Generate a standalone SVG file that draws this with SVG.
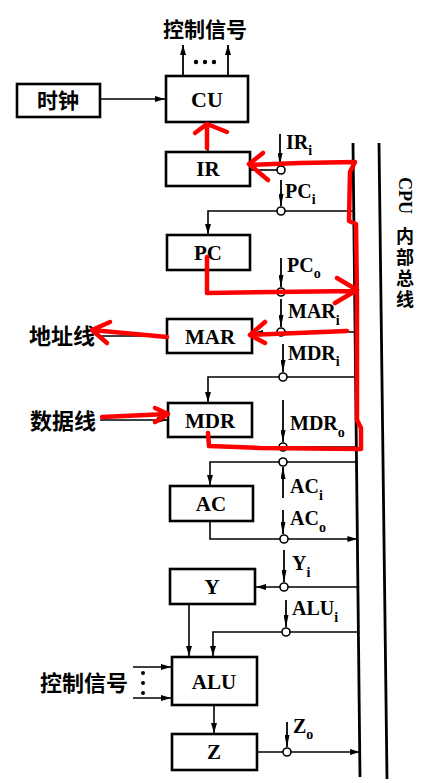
<svg xmlns="http://www.w3.org/2000/svg" width="436" height="783" viewBox="0 0 436 783">
<style>
.box{fill:#fff;stroke:#000;stroke-width:2.6}
.bl{font-family:"Liberation Serif","Times New Roman",serif;font-weight:bold;font-size:21px;text-anchor:middle}
.lb{font-family:"Liberation Serif","Times New Roman",serif;font-weight:bold;font-size:20px}
.sb{font-size:14px}
.cn{font-family:"Noto Sans CJK SC","Noto Sans",sans-serif;font-weight:bold;font-size:21px}
.vt{font-family:"Noto Sans CJK SC","Noto Sans",sans-serif;font-weight:bold;font-size:18px;writing-mode:vertical-rl}
.ln{fill:none;stroke:#000;stroke-width:1.6}
.st{fill:none;stroke:#000;stroke-width:1.8}
.bus{fill:none;stroke:#000;stroke-width:2.8}
.ci{fill:#fff;stroke:#000;stroke-width:1.6}
.red{fill:none;stroke:#f00;stroke-width:4.5;stroke-linecap:round;stroke-linejoin:round}
</style>
<defs>
<marker id="ah" viewBox="0 0 10 6" refX="10" refY="3" markerWidth="10" markerHeight="6" orient="auto" markerUnits="userSpaceOnUse"><path d="M0,0 L10,3 L0,6 z"/></marker>
<marker id="as" viewBox="0 0 12 5" refX="12" refY="2.5" markerWidth="12" markerHeight="5" orient="auto" markerUnits="userSpaceOnUse"><path d="M0,0 L12,2.5 L0,5 z"/></marker>
</defs>
<rect width="436" height="783" fill="#fff"/>

<g id="connectors">
<path class="bus" d="M353,143 L360,777"/>
<path class="bus" d="M379,143 L387,779"/>
<path class="ln" d="M100,99 H165" marker-end="url(#ah)"/>
<path class="st" d="M183,76 V45" marker-end="url(#ah)"/>
<path class="st" d="M228,76 V45" marker-end="url(#ah)"/>
<circle cx="196" cy="62" r="2.2"/><circle cx="205" cy="62" r="2.2"/><circle cx="214" cy="62" r="2.2"/>
<path class="ln" d="M208,152 V123"/>
<path class="st" d="M280,134 V165" marker-end="url(#as)"/>
<path class="ln" d="M250,170 H277"/>
<path class="st" d="M281,180 V206" marker-end="url(#as)"/>
<path class="ln" d="M285,211 H353.7 M277,211 H208 V234" marker-end="url(#ah)"/>
<path class="st" d="M281,258 V287" marker-end="url(#as)"/>
<path class="ln" d="M208,270 V292 H277 M285,292 H354"/>
<path class="st" d="M281,299 V327" marker-end="url(#as)"/>
<path class="ln" d="M354.5,332 H285 M277,333 H253" marker-end="url(#ah)"/>
<path class="st" d="M283,344 V372" marker-end="url(#as)"/>
<path class="ln" d="M355.6,377 H287 M279,377 H208 V402" marker-end="url(#ah)"/>
<path class="st" d="M283,400 V442" marker-end="url(#as)"/>
<path class="ln" d="M208,437 V447 H279 M287,447 H356"/>
<path class="ln" d="M356.5,462 H287 M279,462 H210 V485" marker-end="url(#ah)"/>
<path class="st" d="M283,498 V467" marker-end="url(#as)"/>
<path class="st" d="M283,510 V534" marker-end="url(#as)"/>
<path class="ln" d="M210,521 V539 H280 M288,539 H357.4" marker-end="url(#ah)"/>
<path class="st" d="M284,550 V582" marker-end="url(#as)"/>
<path class="ln" d="M357.9,587 H288 M280,587 H256" marker-end="url(#ah)"/>
<path class="st" d="M286,600 V627" marker-end="url(#as)"/>
<path class="ln" d="M358.4,632 H290 M282,632 H213 V656" marker-end="url(#ah)"/>
<path class="ln" d="M189,604 V656" marker-end="url(#ah)"/>
<path class="ln" d="M214,705 V733" marker-end="url(#ah)"/>
<path class="st" d="M287,722 V747" marker-end="url(#as)"/>
<path class="ln" d="M257,752 H283 M291,752 H359.7" marker-end="url(#ah)"/>
<path class="ln" d="M133,667 H171" marker-end="url(#ah)"/>
<path class="ln" d="M133,698 H171" marker-end="url(#ah)"/>
<circle cx="143" cy="673" r="2"/><circle cx="143" cy="683" r="2"/><circle cx="143" cy="693" r="2"/>
<path class="ln" d="M167,336 H98"/>
<path class="ln" d="M100,420 H167" marker-end="url(#ah)"/>
<circle class="ci" cx="281" cy="170" r="4"/>
<circle class="ci" cx="281" cy="211" r="4"/>
<circle class="ci" cx="281" cy="292" r="4"/>
<circle class="ci" cx="281" cy="332" r="4"/>
<circle class="ci" cx="283" cy="377" r="4"/>
<circle class="ci" cx="283" cy="447" r="4"/>
<circle class="ci" cx="283" cy="462" r="4"/>
<circle class="ci" cx="284" cy="539" r="4"/>
<circle class="ci" cx="284" cy="587" r="4"/>
<circle class="ci" cx="286" cy="632" r="4"/>
<circle class="ci" cx="287" cy="752" r="4"/>
</g>

<g id="clock"><rect class="box" x="17" y="84" width="83" height="33"/><text class="cn" x="58" y="108" text-anchor="middle">时钟</text></g>
<g id="cu"><rect class="box" x="166" y="76" width="82" height="46"/><text class="bl" x="207" y="107" style="font-size:22px">CU</text></g>
<g id="ir"><rect class="box" x="166" y="152" width="84" height="34"/><text class="bl" x="208" y="176">IR</text></g>
<g id="pc"><rect class="box" x="167" y="235" width="83" height="35"/><text class="bl" x="208" y="260">PC</text></g>
<g id="mar"><rect class="box" x="167" y="319" width="85" height="34"/><text class="bl" x="210" y="344">MAR</text></g>
<g id="mdr"><rect class="box" x="168" y="403" width="84" height="34"/><text class="bl" x="210" y="428">MDR</text></g>
<g id="ac"><rect class="box" x="170" y="486" width="83" height="35"/><text class="bl" x="211" y="511">AC</text></g>
<g id="y"><rect class="box" x="170" y="569" width="85" height="35"/><text class="bl" x="212" y="594">Y</text></g>
<g id="alu"><rect class="box" x="172" y="657" width="85" height="48"/><text class="bl" x="214" y="689">ALU</text></g>
<g id="z"><rect class="box" x="172" y="734" width="85" height="36"/><text class="bl" x="214" y="759">Z</text></g>

<g id="labels">
<text class="cn" x="205" y="37" text-anchor="middle">控制信号</text>
<text class="cn" x="62" y="344" text-anchor="middle" style="font-size:22px">地址线</text>
<text class="cn" x="63" y="429" text-anchor="middle" style="font-size:22px">数据线</text>
<text class="cn" x="84" y="691" text-anchor="middle" style="font-size:22px">控制信号</text>
<text class="lb" x="286" y="149">IR<tspan class="sb" dy="6">i</tspan></text>
<text class="lb" x="285" y="198">PC<tspan class="sb" dy="6">i</tspan></text>
<text class="lb" x="287" y="272">PC<tspan class="sb" dy="6">o</tspan></text>
<text class="lb" x="288" y="318">MAR<tspan class="sb" dy="7">i</tspan></text>
<text class="lb" x="288" y="360">MDR<tspan class="sb" dy="6">i</tspan></text>
<text class="lb" x="290" y="430">MDR<tspan class="sb" dy="7">o</tspan></text>
<text class="lb" x="290" y="493">AC<tspan class="sb" dy="7">i</tspan></text>
<text class="lb" x="290" y="525">AC<tspan class="sb" dy="7">o</tspan></text>
<text class="lb" x="292" y="570">Y<tspan class="sb" dy="7">i</tspan></text>
<text class="lb" x="292" y="615">ALU<tspan class="sb" dy="7">i</tspan></text>
<text class="lb" x="293" y="733">Z<tspan class="sb" dy="6">o</tspan></text>
<text x="399" y="177" transform="rotate(90 399 177)" style="font-family:'Liberation Serif',serif;font-weight:bold;font-size:18px">CPU</text>
<text class="vt" x="405" y="227" style="letter-spacing:3px">内部总线</text>
</g>

<g id="red-annotations">
<path class="red" d="M207,148 V125 M195,133 L207,124 L227,132"/>
<path class="red" d="M250,165 L300,163 L355,162 L350,172 L349,221 L356,224 L357,300 L357,420 L361,428 L361,449 L260,448 L209,446 L208,433"/>
<path class="red" d="M263,153 L249,164 L268,180"/>
<path class="red" d="M207,257 L207,293 L355,291 M337,278 L357,290 L335,303"/>
<path class="red" d="M347,331 L250,335 M265,322 L250,335 L265,343"/>
<path class="red" d="M167,337 L92,330 M110,322 L92,330 L107,343"/>
<path class="red" d="M102,417 L168,414 M155,408 L168,414 L155,422"/>
</g>
</svg>
